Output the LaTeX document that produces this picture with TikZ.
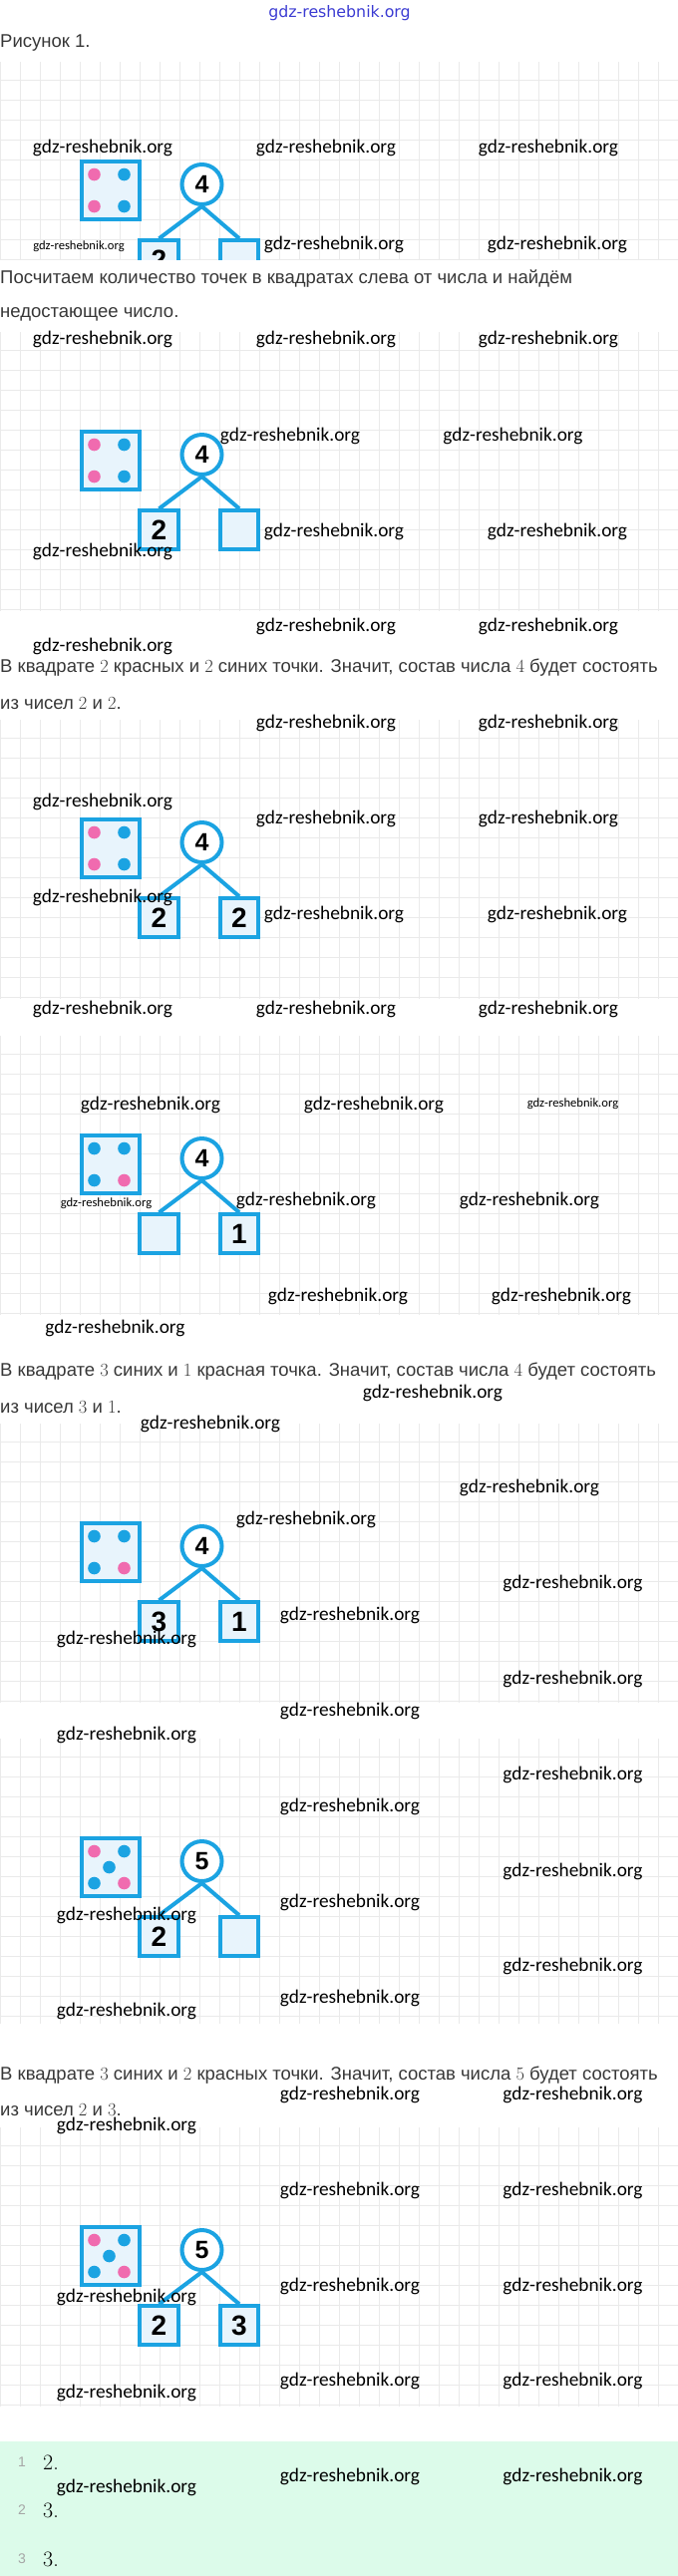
\documentclass[tikz,border=0pt]{standalone}
\usepackage{fontspec}
\usepackage{xcolor}
\newfontfamily\bodyfont{Liberation Sans}
\newfontfamily\wmfont{Carlito}
\newfontfamily\headfont{DejaVu Sans}
\newcommand\lmd[1]{{\rmfamily #1}}
\definecolor{dicebl}{RGB}{27,163,226}
\definecolor{pinkdot}{RGB}{240,107,175}
\definecolor{cellfill}{RGB}{232,244,252}
\definecolor{gridgray}{RGB}{234,234,234}
\definecolor{textgray}{RGB}{55,55,55}
\definecolor{mint}{RGB}{220,251,234}
\definecolor{headblue}{RGB}{60,60,210}
\tikzset{
  dice/.style={draw=dicebl,line width=4pt,fill=cellfill,minimum size=58pt,inner sep=0pt},
  total/.style={circle,draw=dicebl,line width=4pt,fill=white,minimum size=40pt,inner sep=0pt,
    font=\bodyfont\bfseries\fontsize{25}{25}\selectfont},
  part/.style={draw=dicebl,line width=4pt,fill=cellfill,minimum size=38.5pt,inner sep=0pt,
    font=\bodyfont\bfseries\fontsize{28}{28}\selectfont},
  branch/.style={draw=dicebl,line width=4pt},
  gridline/.style={draw=gridgray,line width=0.8pt,step=20pt},
  bodytext/.style={anchor=west,inner sep=0pt,text=textgray,font=\bodyfont\fontsize{18.5}{22}\selectfont},
  wm/.style={inner sep=0pt,font=\wmfont\fontsize{19.3}{20}\selectfont},
  wmsmall/.style={inner sep=0pt,font=\wmfont\fontsize{12.6}{14}\selectfont},
  lineno/.style={inner sep=0pt,text=gray!70,font=\bodyfont\fontsize{14}{16}\selectfont},
  answer/.style={anchor=west,inner sep=0pt,font=\rmfamily\fontsize{22}{24}\selectfont}
}

\begin{document}
\begin{tikzpicture}[x=1pt,y=-1pt]
\useasboundingbox (0,0) rectangle (680,2584);

\node[font=\headfont\fontsize{15.8}{18}\selectfont,text=headblue] (head) at (340.5,13) {gdz-reshebnik.org};

% panels: dice top, bottom, number, left, right, dot colours (TL, TR, BL, BR, centre)
\foreach \T/\B/\tot/\lft/\rgt/\ca/\cb/\cc/\cd/\ce [count=\k] in {
  160/100/4/2//pinkdot/dicebl/pinkdot/dicebl/none,
  431/182/4/2//pinkdot/dicebl/pinkdot/dicebl/none,
  820/182/4/2/2/pinkdot/dicebl/pinkdot/dicebl/none,
  1137/182/4//1/dicebl/dicebl/dicebl/pinkdot/none,
  1526/182/4/3/1/dicebl/dicebl/dicebl/pinkdot/none,
  1842/188/5/2//pinkdot/dicebl/dicebl/pinkdot/dicebl,
  2232/182/5/2/3/pinkdot/dicebl/dicebl/pinkdot/dicebl}{
  \begin{scope}[shift={(0,\T)}]
    \clip (0,-98) rectangle (680,\B);
    \draw[gridline] (0,-98) grid (680,\B);
    \node[dice] (d\k) at (110.5,31) {};
    \path[fill=\ca] (94.5,15) circle[radius=6.3pt];
    \path[fill=\cb] (124.5,15) circle[radius=6.3pt];
    \path[fill=\cc] (94.5,47) circle[radius=6.3pt];
    \path[fill=\cd] (124.5,47) circle[radius=6.3pt];
    \path[fill=\ce] (109.5,31) circle[radius=6.3pt];
    \node[total] (c\k) at (202.5,25) {\tot};
    \node[part] (l\k) at (159.5,100.5) {\lft};
    \node[part] (r\k) at (240,100.5) {\rgt};
    \draw[branch] (c\k.south) -- (l\k.north);
    \draw[branch] (c\k.south) -- (r\k.north);
  \end{scope}
}

\node[bodytext] (fig) at (0,43) {Рисунок 1.};
\node[bodytext] (t1a) at (0,280) {Посчитаем количество точек в квадратах слева от числа и найдём};
\node[bodytext] (t1b) at (0,315) {недостающее число.};
\node[bodytext] (t2a) at (0,670) {В квадрате \lmd{2} красных и \lmd{2} синих точки. Значит, состав числа \lmd{4} будет состоять};
\node[bodytext] (t2b) at (0,705) {из чисел \lmd{2} и \lmd{2}.};
\node[bodytext] (t3a) at (0,1376) {В квадрате \lmd{3} синих и \lmd{1} красная точка. Значит, состав числа \lmd{4} будет состоять};
\node[bodytext] (t3b) at (0,1412) {из чисел \lmd{3} и \lmd{1}.};
\node[bodytext] (t4a) at (0,2082) {В квадрате \lmd{3} синих и \lmd{2} красных точки. Значит, состав числа \lmd{5} будет состоять};
\node[bodytext] (t4b) at (0,2117) {из чисел \lmd{2} и \lmd{3}.};

% answers
\fill[mint] (0,2449) rectangle (680,2584);
\node[lineno] (n1) at (22,2470) {1};
\node[lineno] (n2) at (22,2518) {2};
\node[lineno] (n3) at (22,2567) {3};
\node[answer] (a1) at (43,2470) {2.};
\node[answer] (a2) at (43,2518) {3.};
\node[answer] (a3) at (43,2567) {3.};

% watermarks
\foreach \x/\y [count=\i] in {103/148,327/148,550/148,335/245,559/245,
  103/340,327/340,550/340,291/437,514.5/437,335/533,559/533,103/553,327/628,550/628,103/648,
  327/725,550/725,103/804,327/821,550/821,103/900,335/917,559/917,103/1012,327/1012,550/1012,
  151/1108,375/1108,307/1204,531/1204,339/1300,563/1300,115.5/1332,434/1397,211/1428,
  531/1492,307/1524,574.5/1588,127/1644,351/1620,574.5/1684,351/1716,127/1740,574.5/1780,351/1812,
  574.5/1877,351/1908,127/1921,574.5/1972,351/2004,127/2017,351/2101,574.5/2101,127/2132,351/2197,574.5/2197,
  351/2293,574.5/2293,127/2304,351/2388,574.5/2388,127/2400,351/2484,574.5/2484,127/2495}
  \node[wm] (wm\i) at (\x,\y) {gdz-reshebnik.org};
\foreach \x/\y [count=\i] in {79/247,574.5/1107,106.5/1207}
  \node[wmsmall] (ws\i) at (\x,\y) {gdz-reshebnik.org};
\end{tikzpicture}
\end{document}
